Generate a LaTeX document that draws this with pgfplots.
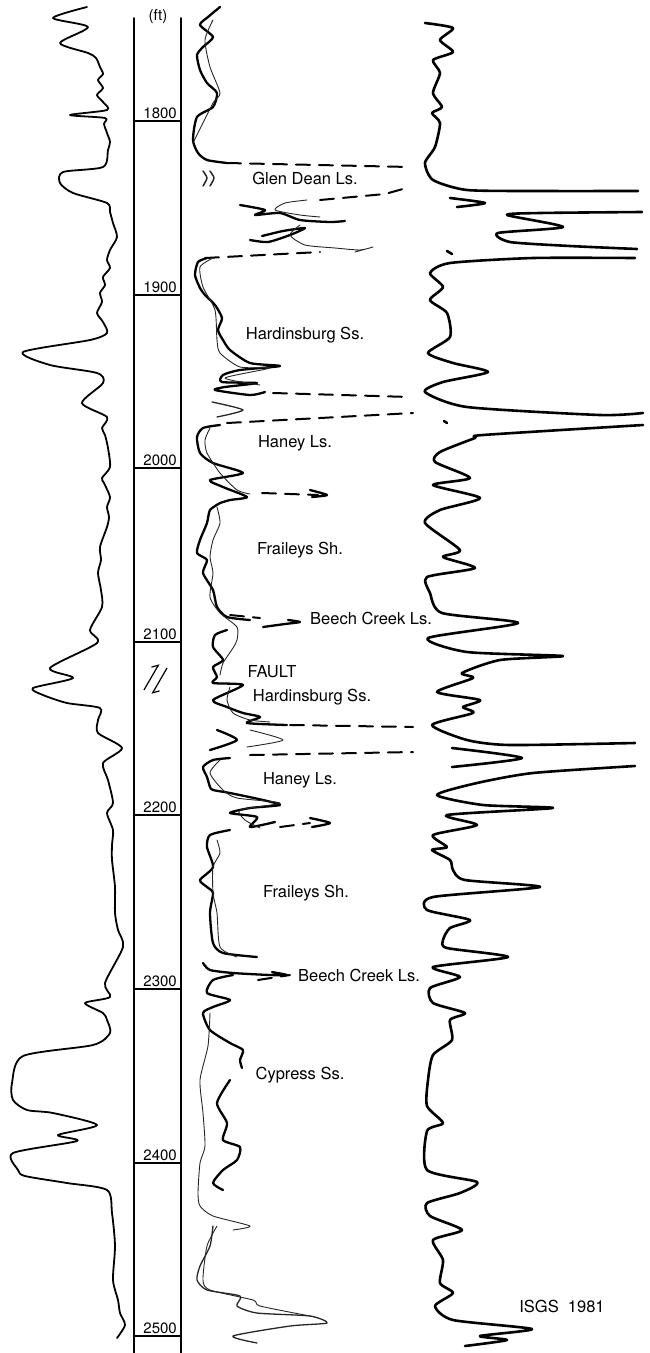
\documentclass[border=0pt]{standalone}
\usepackage{pgfplots}
\pgfplotsset{compat=1.18}
\usetikzlibrary{arrows.meta}
\usepackage{fontspec}
\setmainfont{TeX Gyre Heros}
\tikzset{
  lcurve/.style={black, line width=1.8pt, smooth, tension=0.45},
  rcurve/.style={black, line width=2.6pt, smooth, tension=0.4},
  thk/.style={black, line width=2.3pt, smooth, tension=0.4},
  thn/.style={black!85, line width=0.9pt, smooth, tension=0.4},
  dsh/.style={black, line width=2pt, dash pattern=on 14pt off 9pt},
  trk/.style={black, line width=2pt},
  lab/.style={font=\fontsize{16.5}{17}\selectfont, anchor=center, inner sep=0pt},
  dep/.style={font=\fontsize{15}{16}\selectfont, anchor=south east, inner sep=1pt}}
\begin{document}
\begin{tikzpicture}
\begin{axis}[anchor=south west, at={(0pt,0pt)}, scale only axis,
  width=649pt, height=1353pt, xmin=0, xmax=649, ymin=0, ymax=1353,
  y dir=reverse, hide axis, clip=false,
  every axis plot/.append style={no marks, line join=round, line cap=round}]

% ---------- depth track ----------
\addplot[trk] coordinates {(134,18) (134,1353)};
\addplot[trk] coordinates {(181,18) (181,1353)};
\pgfplotsinvokeforeach{121,295,468,642,815,989,1163,1336}{
  \addplot[trk] coordinates {(134,#1) (181,#1)};
}
\node[dep] at (axis cs:178,120) {1800};
\node[dep] at (axis cs:178,294) {1900};
\node[dep] at (axis cs:178,467) {2000};
\node[dep] at (axis cs:178,641) {2100};
\node[dep] at (axis cs:178,814) {2200};
\node[dep] at (axis cs:178,988) {2300};
\node[dep] at (axis cs:178,1162) {2400};
\node[dep] at (axis cs:178,1335) {2500};
\node[font=\fontsize{15}{16}\selectfont, inner sep=0pt] at (axis cs:158,17) {(ft)};
% fault symbol
\draw[black, line width=1.2pt, -{Straight Barb[left,length=5pt]}] (axis cs:144,690) -- (axis cs:159,664);
\draw[black, line width=1.2pt, -{Straight Barb[left,length=5pt]}] (axis cs:167,668) -- (axis cs:152,694);

% ---------- left curve ----------
\addplot[lcurve] coordinates {
(87,7) (53,18) (88,27) (60,43) (88,53) (96,58) (100,67) (103,74) (98,80) (103,88) (97,95) (103,102)
(107,110) (70,115) (105,118) (104,124) (107,133) (110,142) (108,150) (103,167) (63,172) (60,183)
(73,193) (107,203) (110,212) (113,223) (117,237) (110,250) (107,260) (110,268) (103,277) (105,285)
(100,293) (102,302) (97,313) (103,322) (107,333) (90,340) (23,352) (50,365) (97,373) (103,383)
(82,403) (107,417) (102,428) (105,435) (108,448) (110,467) (102,478) (104,483) (110,497) (107,507)
(109,517) (107,527) (100,547) (101,560) (98,573) (101,590) (102,607) (90,630) (97,643) (50,668)
(73,678) (33,688) (43,695) (67,703) (100,708) (98,720) (98,733) (122,748) (103,763) (108,780)
(113,803) (107,813) (113,830) (112,845) (112,860) (115,887) (115,913) (118,930) (123,947)
(105,983) (110,997) (85,1003) (103,1013) (107,1020) (110,1033) (93,1045) (23,1056) (12,1083)
(13,1100) (27,1110) (53,1113) (97,1125) (58,1135) (77,1141) (13,1153) (18,1170) (25,1176)
(67,1183) (107,1190) (112,1213) (115,1246) (113,1280) (118,1300) (120,1313) (125,1325) (117,1338)};

% ---------- right curve ----------
\addplot[rcurve] coordinates {
(425,23) (453,28) (440,40) (453,52) (433,60) (440,73) (433,93) (442,107) (432,113) (440,123)
(435,147) (425,163) (433,180) (467,190) (540,191) (638,191)};
\addplot[rcurve] coordinates {(450,198) (485,203) (457,207)};
\addplot[rcurve] coordinates {(642,212) (540,213) (507,215) (563,227) (498,233) (510,242) (570,246) (637,249)};
\addplot[rcurve] coordinates {(447,251) (452,254)};
\addplot[rcurve] coordinates {
(635,258) (533,258) (450,263) (430,273) (443,287) (430,300) (447,313) (450,337) (428,353) (453,363)
(488,372) (443,382) (425,392) (467,407) (600,415) (643,413)};
\addplot[rcurve] coordinates {(444,421) (447,423)};
\addplot[rcurve] coordinates {
(643,425) (483,435) (475,438) (440,452) (435,462) (470,478) (433,485) (480,498) (440,510) (425,523)
(460,550) (443,557) (475,568) (427,577) (430,593) (442,613) (518,623) (428,638) (467,652) (563,656)
(500,660) (462,673) (473,678) (437,692) (480,700) (463,707) (473,713) (432,725) (467,740) (510,745)
(635,743)};
\addplot[rcurve] coordinates {(452,748) (522,758) (452,767)};
\addplot[rcurve] coordinates {
(635,766) (533,773) (477,783) (437,795) (483,805) (553,808) (447,815) (477,825) (433,835) (447,847)
(432,850) (450,860) (453,870) (465,880) (540,887) (433,897) (427,910) (470,920) (450,928) (443,940)
(447,948) (508,957) (433,967) (460,977) (430,988) (433,1003) (465,1013) (450,1020) (452,1040)
(433,1055) (428,1080) (427,1106) (443,1123) (427,1131) (427,1170) (477,1182) (460,1193) (427,1203)
(430,1216) (462,1230) (433,1240) (443,1260) (440,1283) (453,1293) (435,1306) (453,1320) (532,1329)
(480,1336) (507,1340) (465,1346)};

% ---------- middle curves ----------
% top
\addplot[thk] coordinates {(220,7) (208,17) (200,25) (213,37) (203,47) (197,55) (200,70) (207,83) (217,93) (213,107) (197,117) (193,140) (198,153) (207,160) (227,163)};
\addplot[thn] coordinates {(213,20) (205,40) (210,67) (220,93) (213,103) (193,143)};
\addplot[dsh] coordinates {(227,163) (410,167)};
\addplot[thn, line width=1.5pt] coordinates {(203,171) (207,178) (203,186)};
\addplot[thn, line width=1.5pt] coordinates {(210,171) (214,178) (210,186)};
% Glen Dean
\addplot[dsh] coordinates {(320,200) (385,194) (410,187)};
\addplot[thk] coordinates {(240,205) (265,210) (255,215) (280,213) (300,220) (330,222) (345,221)};
\addplot[thn] coordinates {(307,200) (285,203) (275,210) (300,215) (320,217)};
\addplot[thk] coordinates {(262,236) (283,231) (305,228) (290,235) (268,242) (250,240)};
\addplot[thn] coordinates {(300,225) (290,235) (305,245) (335,248) (360,250) (373,247) (355,252)};
\addplot[dsh] coordinates {(205,258) (320,252)};
% Hardinsburg
\addplot[thk] coordinates {(207,258) (198,262) (195,275) (200,288) (205,295) (215,305) (222,318) (218,330) (223,340) (230,350) (250,363) (280,366) (240,370) (223,375) (222,382) (257,383) (225,387) (215,390) (250,395) (265,392)};
\addplot[thn] coordinates {(213,258) (200,267) (203,287) (215,310) (217,340) (220,353) (240,367) (270,368) (225,378) (260,385)};
\addplot[dsh] coordinates {(273,393) (410,397)};
\addplot[thn, line width=1.3pt] coordinates {(212,402) (243,410) (217,417)};
\addplot[dsh] coordinates {(227,423) (413,413)};
% Haney
\addplot[thk] coordinates {(220,425) (203,428) (197,437) (200,453) (213,463) (243,473) (210,480) (223,487) (247,497) (230,500) (220,503)};
\addplot[thn] coordinates {(210,428) (205,440) (207,453) (220,473) (237,490) (250,494)};
\addplot[dsh] coordinates {(262,493) (318,495)};
\addplot[thk] coordinates {(310,490) (327,495) (312,497)};
% Fraileys
\addplot[thk] coordinates {(220,503) (210,510) (207,523) (200,540) (197,553) (207,560) (203,573) (213,590) (217,607) (227,617) (250,620)};
\addplot[thn] coordinates {(217,507) (220,523) (213,540) (210,557) (213,573) (210,597) (220,613) (237,627) (237,640) (233,648) (223,663) (220,675)};
\addplot[dsh] coordinates {(230,615) (260,618)};
\addplot[thk] coordinates {(263,627) (285,624) (300,622) (288,620)};
% below Beech Creek / fault
\addplot[thk] coordinates {(227,630) (215,635) (213,647) (223,660) (213,667) (217,677) (213,683) (243,685) (213,700) (227,707) (243,713) (260,717) (247,723) (287,725)};
\addplot[thn] coordinates {(230,687) (227,700) (233,713) (250,720) (270,722)};
\addplot[dsh] coordinates {(290,725) (413,727)};
\addplot[thk] coordinates {(217,730) (237,740) (210,750)};
\addplot[thn] coordinates {(250,730) (283,740) (247,747)};
\addplot[dsh] coordinates {(250,755) (413,752)};
% Haney 2
\addplot[thk] coordinates {(230,758) (213,760) (203,767) (207,777) (210,787) (213,790) (230,793) (263,800) (280,805) (250,808) (230,813) (257,817) (250,827) (275,822)};
\addplot[thn] coordinates {(220,760) (210,773) (223,790) (237,798) (280,803) (240,810) (245,820) (260,828)};
\addplot[dsh] coordinates {(280,827) (310,823)};
\addplot[thk] coordinates {(310,818) (330,823) (312,827)};
% Fraileys 2
\addplot[thk] coordinates {(230,830) (210,835) (207,847) (213,867) (200,880) (207,887) (213,893) (210,913) (213,943) (223,953) (257,957)};
\addplot[thn] coordinates {(217,840) (220,853) (213,867) (213,893) (217,913) (220,947) (237,957)};
% Beech Creek 2
\addplot[thk] coordinates {(203,963) (210,970) (233,973) (270,975) (287,975) (272,972)};
\addplot[dsh] coordinates {(258,980) (290,975)};
\addplot[thk] coordinates {(233,975) (213,980) (207,993) (230,1000) (213,1007) (203,1013) (210,1030) (230,1043) (243,1050) (240,1060) (242,1068)};
% Cypress
\addplot[thk] coordinates {(230,1080) (217,1103) (227,1123) (223,1140) (240,1147) (237,1160) (223,1170) (213,1183) (223,1190)};
\addplot[thn] coordinates {(210,1013) (208,1046) (200,1080) (203,1113) (205,1146) (200,1163) (198,1193) (200,1206) (213,1216) (250,1226) (233,1230)};
\addplot[thn, line width=1.3pt] coordinates {(213,1226) (210,1246) (200,1266) (197,1280) (207,1290) (240,1296) (237,1306) (257,1313) (310,1316) (327,1323) (290,1326) (233,1336) (257,1343)};
\addplot[thn] coordinates {(217,1226) (207,1246) (203,1280) (210,1290) (253,1300) (260,1306) (310,1316)};

% ---------- labels ----------
\node[lab] at (axis cs:305,178) {Glen Dean Ls.};
\node[lab] at (axis cs:305,335) {Hardinsburg Ss.};
\node[lab] at (axis cs:295,443) {Haney Ls.};
\node[lab] at (axis cs:300,550) {Fraileys Sh.};
\node[lab, anchor=west] at (axis cs:310,618) {Beech Creek Ls.};
\node[lab] at (axis cs:272,672) {FAULT};
\node[lab] at (axis cs:312,697) {Hardinsburg Ss.};
\node[lab] at (axis cs:300,780) {Haney Ls.};
\node[lab] at (axis cs:306,893) {Fraileys Sh.};
\node[lab, anchor=west] at (axis cs:298,975) {Beech Creek Ls.};
\node[lab] at (axis cs:300,1075) {Cypress Ss.};
\node[lab] at (axis cs:562,1306) {ISGS\ \ 1981};
\end{axis}
\pgfresetboundingbox
\path[use as bounding box] (0,0) rectangle (649pt,1353pt);
\end{tikzpicture}
\end{document}
